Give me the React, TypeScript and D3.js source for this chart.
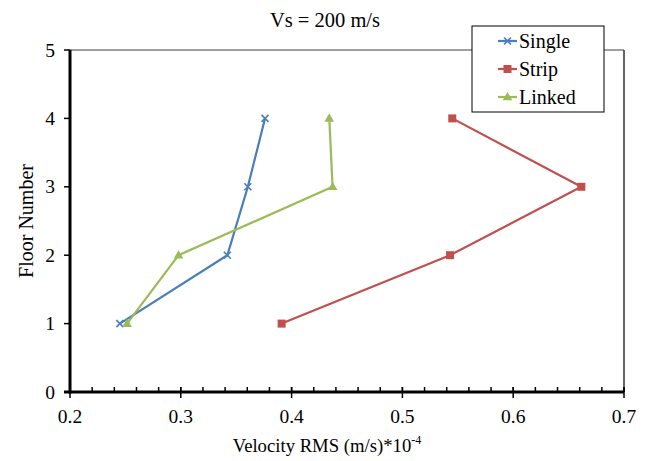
import React from "react";
import * as d3 from "d3";

const floors = [1, 2, 3, 4];
const singleVals = [0.245, 0.342, 0.3605, 0.376];
const stripVals = [0.391, 0.543, 0.6615, 0.545];
const linkedVals = [0.2515, 0.298, 0.437, 0.434];
const xTicks = [0.2, 0.3, 0.4, 0.5, 0.6, 0.7];
const yTicks = [0, 1, 2, 3, 4, 5];
const seriesNames = ["Single", "Strip", "Linked"];
const seriesColors = ["#4A7EBB", "#C0504D", "#9BBB59"];

const W = 649, H = 461;
const L = 70, R = 624, T = 50, B = 392;
const FONT = "Liberation Serif, Times New Roman, Times, serif";
const ts = { fontFamily: FONT };

function Marker({ kind, x, y, color }: { kind: number; x: number; y: number; color: string }) {
  if (kind === 0) {
    const s = 3.5;
    return (
      <g stroke={color} strokeWidth={1.6}>
        <line x1={x - s} y1={y - s} x2={x + s} y2={y + s} />
        <line x1={x - s} y1={y + s} x2={x + s} y2={y - s} />
      </g>
    );
  }
  if (kind === 1) {
    return <rect x={x - 4} y={y - 4} width={8} height={8} fill={color} />;
  }
  const sym = d3.symbol().type(d3.symbolTriangle).size(40)();
  return <path d={sym || ""} transform={`translate(${x},${y + 0.5})`} fill={color} />;
}

export default function App() {
  const x = d3.scaleLinear().domain([0.2, 0.7]).range([L, R]);
  const y = d3.scaleLinear().domain([0, 5]).range([B, T]);
  const line = d3
    .line<[number, number]>()
    .x((d) => x(d[0]))
    .y((d) => y(d[1]));
  const all = [singleVals, stripVals, linkedVals];
  const minorTicks = d3.range(0, 26).map((i) => 0.2 + i * 0.02);

  return (
    <svg width={W} height={H} style={{ position: "absolute", left: 0, top: 0, background: "#fff", fontFamily: FONT }}>
      <rect x={0} y={0} width={W} height={H} fill="#fff" />
      <line x1={L} y1={T} x2={R} y2={T} stroke="#808080" strokeWidth={1.5} />
      <line x1={R} y1={T} x2={R} y2={B} stroke="#333" strokeWidth={1.5} />
      {all.map((vals, si) => (
        <g key={si}>
          <path
            d={line(vals.map((v, i) => [v, floors[i]] as [number, number])) || ""}
            fill="none"
            stroke={seriesColors[si]}
            strokeWidth={2.2}
          />
          {vals.map((v, i) => (
            <Marker key={i} kind={si} x={x(v)} y={y(floors[i])} color={seriesColors[si]} />
          ))}
        </g>
      ))}
      {minorTicks.map((t, i) => (
        <line key={i} x1={x(t)} x2={x(t)} y1={B - 5} y2={B} stroke="#000" strokeWidth={1.5} />
      ))}
      {xTicks.map((t) => (
        <g key={t}>
          <line x1={x(t)} x2={x(t)} y1={B - 5} y2={B + 6} stroke="#000" strokeWidth={1.5} />
          <text x={x(t)} y={423} textAnchor="middle" fontSize={19.5} fill="#000" style={ts}>
            {d3.format(".1f")(t)}
          </text>
        </g>
      ))}
      {yTicks.map((t) => (
        <g key={t}>
          <line x1={L - 6} x2={L} y1={y(t)} y2={y(t)} stroke="#000" strokeWidth={1.5} />
          <text x={55} y={y(t) + 6.5} textAnchor="end" fontSize={19.5} fill="#000" style={ts}>
            {t}
          </text>
        </g>
      ))}
      <line x1={L} y1={T} x2={L} y2={B + 1.5} stroke="#000" strokeWidth={3} />
      <line x1={L - 6} y1={B} x2={R} y2={B} stroke="#000" strokeWidth={3} />
      <text x={325} y={27} textAnchor="middle" fontSize={20.5} fill="#000" style={ts}>
        Vs = 200 m/s
      </text>
      <text x={327} y={452} textAnchor="middle" fontSize={18.7} fill="#000" style={ts}>
        Velocity RMS (m/s)*10
        <tspan fontSize={12} dy={-8}>-4</tspan>
      </text>
      <text transform={`translate(33,${(T + B) / 2}) rotate(-90)`} textAnchor="middle" fontSize={20} fill="#000" style={ts}>
        Floor Number
      </text>
      <rect x={472} y={26} width={132} height={86} fill="#fff" stroke="#000" strokeWidth={1} />
      {seriesNames.map((n, i) => {
        const ly = 41 + i * 28;
        return (
          <g key={n}>
            <line x1={498} x2={517} y1={ly} y2={ly} stroke={seriesColors[i]} strokeWidth={2.2} />
            <Marker kind={i} x={507.5} y={ly} color={seriesColors[i]} />
            <text x={519} y={ly + 6.5} fontSize={20} fill="#000" style={ts}>
              {n}
            </text>
          </g>
        );
      })}
    </svg>
  );
}
